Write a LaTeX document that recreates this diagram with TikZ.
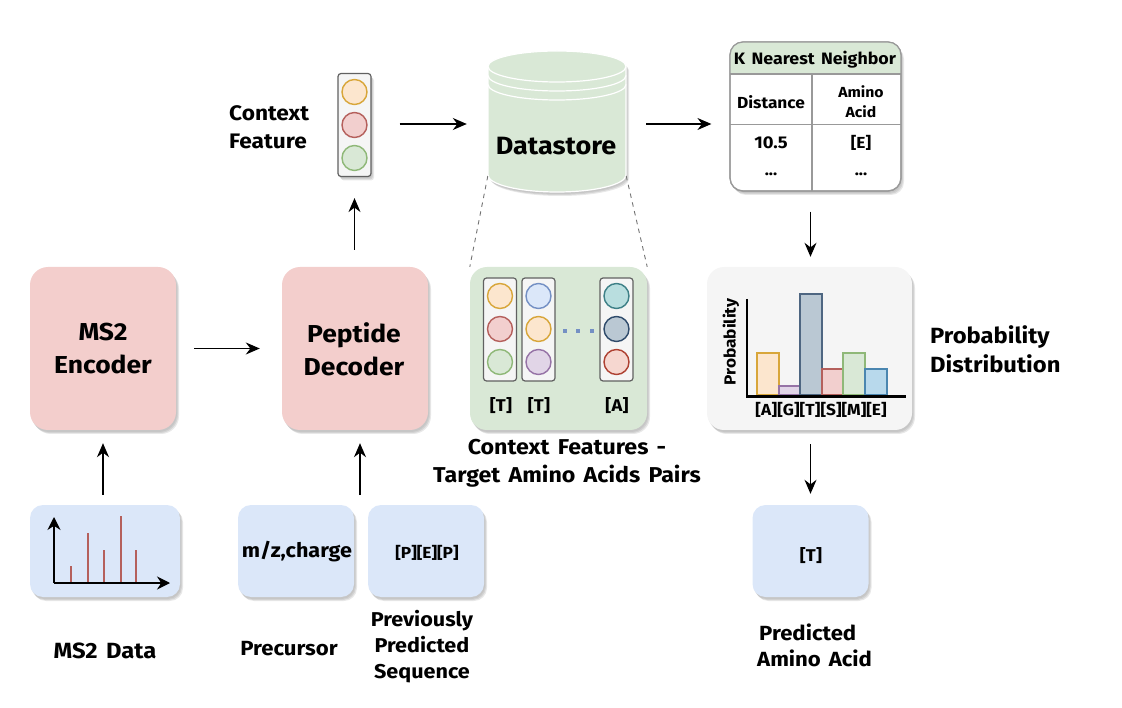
\documentclass[tikz,border=0pt]{standalone}
\usepackage{fontspec}
\setmainfont{Fira Sans}[FakeStretch=1.08,WordSpace=1.5]
\usetikzlibrary{shadows,calc,arrows.meta}
\definecolor{pinkf}{HTML}{F3CECC}
\definecolor{greenf}{HTML}{D9E8D6}
\definecolor{bluef}{HTML}{DBE7F9}
\definecolor{grayf}{HTML}{F5F5F5}
\definecolor{orangef}{HTML}{FCE6CE}
\definecolor{oranged}{HTML}{D8A63A}
\definecolor{redf}{HTML}{F2CFCE}
\definecolor{redd}{HTML}{B5605C}
\definecolor{greend}{HTML}{8FB878}
\definecolor{blued}{HTML}{7490C4}
\definecolor{purplef}{HTML}{E1D5E7}
\definecolor{purpled}{HTML}{9673A6}
\definecolor{tealf}{HTML}{B9DEDF}
\definecolor{teald}{HTML}{3E8087}
\definecolor{navyf}{HTML}{BAC8D3}
\definecolor{navyd}{HTML}{2F4B6B}
\definecolor{salf}{HTML}{F6D7D0}
\definecolor{sald}{HTML}{AE4132}
\definecolor{skyf}{HTML}{B8D9EC}
\definecolor{skyd}{HTML}{4A86B0}
\newcommand{\fs}[2]{\fontsize{#1}{#2}\selectfont\bfseries}
\tikzset{
  x=1pt,y=-1pt,
  softshadow/.style={
    drop shadow={shadow xshift=1pt,shadow yshift=-2pt,opacity=.06,fill=black},
    drop shadow={shadow xshift=2pt,shadow yshift=-3pt,opacity=.09,fill=black},
    drop shadow={shadow xshift=3pt,shadow yshift=-4pt,opacity=.09,fill=black}},
  card/.style={rectangle,rounded corners=#1,inner sep=0pt,softshadow},
  card/.default=14pt,
  encbox/.style={card=18pt,fill=pinkf,minimum width=146pt,minimum height=163pt},
  inbox/.style={card=13pt,fill=bluef,minimum width=116pt,minimum height=92pt},
  tube/.style={rectangle,rounded corners=3pt,inner sep=0pt,draw=black!62,line width=1.2pt,fill=grayf,minimum width=33pt,minimum height=103pt},
  dot/.style={circle,inner sep=0pt,minimum size=25pt,line width=1.4pt},
  arr/.style={-{Stealth[length=14pt,width=12pt]},line width=1.2pt,black},
  big/.style={font=\fs{24.5}{33},align=center,inner sep=0pt},
  lab/.style={font=\fs{20.5}{26.5},align=center,inner sep=0pt},
  small/.style={font=\fs{16}{20},align=center,inner sep=0pt},
  bar/.style={line width=1.4pt},
  ghost/.style={rectangle,inner sep=0pt},
  zoomline/.style={draw=black!55,line width=.9pt,dash pattern=on 4.5pt off 4.5pt}
}
\begin{document}
\begin{tikzpicture}
\useasboundingbox (0,0) rectangle (1122,708);
% main boxes
\node[encbox] (enc) at (103,348.5) {};
\node[big] (enclab) at (103,349) {MS2\\Encoder};
\node[encbox] (dec) at (355,348.5) {};
\node[big] (declab) at (354,349) {Peptide\\Decoder};
% input boxes
\node[inbox,minimum width=150pt] (msd) at (105,551) {};
\node[inbox] (prec) at (296,551) {};
\node[font=\fs{20}{20},inner sep=0pt] (preclab) at (297,552) {m/z,charge};
\node[inbox] (seq) at (426,551) {};
\node[small] (seqlab) at (427,553) {[P][E][P]};
\node[inbox] (pred) at (810.5,551) {};
\node[small,font=\fs{17}{20}] (predlab) at (811,556) {[T]};
% ms2 chart
\foreach \px/\py in {71/566,88/533,104/550,121/516,136/550}
  \draw[redd,line width=1.2pt] (\px,583) -- (\px,\py);
\coordinate (msorigin) at (54,583);
\coordinate (mstop) at (54,517);
\coordinate (msright) at (170,583);
\draw[-{Stealth[length=13pt,width=13pt]},line width=1.2pt] (msorigin) -- (mstop);
\draw[-{Stealth[length=13pt,width=13pt]},line width=1.2pt] (msorigin) -- (msright);
% labels
\node[lab,font=\fs{22}{26}] (l1) at (105,651) {MS2 Data};
\node[lab] (l2) at (289,649) {Precursor};
\node[lab,font=\fs{20}{26}] (l3) at (422,647) {Previously\\Predicted\\Sequence};
\node[lab,align=left,anchor=west] (l4) at (757,645.5) {\hspace{2pt}Predicted\\Amino Acid};
\node[lab,font=\fs{21}{28},align=left,anchor=west] (l5) at (229,127) {Context\\Feature};
\node[lab,font=\fs{22}{29},align=left,anchor=west] (l6) at (930,349.5) {Probability\\Distribution};
\node[lab,font=\fs{21.5}{28}] (l7) at (567,463) {Context Features -\\Target Amino Acids Pairs};
% context feature tube
\node[tube,softshadow] (feat) at (354.5,125) {};
\node[dot,draw=oranged,fill=orangef] (f1) at (354.5,92) {};
\node[dot,draw=redd,fill=redf] (f2) at (354.5,125) {};
\node[dot,draw=greend,fill=greenf] (f3) at (354.5,158) {};
% datastore
\node[ghost,minimum width=138pt,minimum height=146pt] (store) at (557,124) {};
\fill[greenf,softshadow] (488,66.5) -- (488,175) arc[start angle=180,end angle=360,x radius=69,y radius=-17] -- (626,66.5) arc[start angle=0,end angle=180,x radius=69,y radius=-15.5] -- cycle;
\foreach \dy in {0,9,18}
  \draw[white,line width=1.2pt] (488,66.5+\dy) arc[start angle=180,end angle=360,x radius=69,y radius=-15.5];
\draw[white,line width=1.2pt] (488,175) arc[start angle=180,end angle=360,x radius=69,y radius=-17] -- (626,66.5) arc[start angle=0,end angle=180,x radius=69,y radius=-15.5] -- cycle;
\node[big,font=\fs{25}{33}] (storelab) at (556,146) {Datastore};
% context panel
\node[card=17pt,fill=greenf,minimum width=177pt,minimum height=163pt] (panel) at (558.5,348.5) {};
\draw[zoomline] (store.west |- 0,176) -- (panel.north west);
\draw[zoomline] (store.east |- 0,176) -- (panel.north east);
\node[tube] (t1) at (500,329.5) {};
\node[tube] (t2) at (538.5,329.5) {};
\node[tube] (t3) at (616.5,329.5) {};
\node[dot,draw=oranged,fill=orangef] at (500,296) {};
\node[dot,draw=redd,fill=redf] at (500,329) {};
\node[dot,draw=greend,fill=greenf] at (500,362) {};
\node[dot,draw=blued,fill=bluef] at (538.5,296) {};
\node[dot,draw=oranged,fill=orangef] at (538.5,329) {};
\node[dot,draw=purpled,fill=purplef] at (538.5,362) {};
\node[dot,draw=teald,fill=tealf] at (616.5,296) {};
\node[dot,draw=navyd,fill=navyf] at (616.5,329) {};
\node[dot,draw=sald,fill=salf] at (616.5,362) {};
\foreach \px in {565,578,592}
  \fill[blued] (\px-1.7,329.3) rectangle (\px+1.7,332.7);
\node[small,font=\fs{17}{20}] at (501,406) {[T]};
\node[small,font=\fs{17}{20}] at (539,406) {[T]};
\node[small,font=\fs{17}{20}] at (617,406) {[A]};
% table
\node[card=13pt,fill=white,draw=black!40,line width=1.2pt,minimum width=171pt,minimum height=149pt] (knn) at (815.5,116.5) {};
\begin{scope}
\clip[rounded corners=13pt] (730,42) rectangle (901,191);
\fill[greenf] (730,42) rectangle (901,74);
\end{scope}
\draw[black!40,line width=1.2pt] (730,74) -- (901,74) (730,124.5) -- (901,124.5) (812,74) -- (812,191);
\draw[black!40,line width=1.2pt,rounded corners=13pt] (730,42) rectangle (901,191);
\node[font=\fs{16.5}{20},inner sep=0pt] at (815,60) {K Nearest Neighbor};
\node[small] at (771,102) {Distance};
\node[small,font=\fs{14.6}{20}] at (861,102) {Amino\\Acid};
\node[small,font=\fs{17}{20}] at (771,143) {10.5};
\node[small] at (861,143) {[E]};
\node[small] at (771,174) {...};
\node[small] at (861,174) {...};
% probability panel
\node[card=17pt,fill=grayf,minimum width=205pt,minimum height=163pt] (prob) at (809.5,348.5) {};
\draw[bar,draw=oranged,fill=orangef] (757,395) rectangle (779,353);
\draw[bar,draw=purpled,fill=purplef] (779,395) rectangle (800,386);
\draw[bar,draw=navyd!85,fill=navyf] (800,395) rectangle (822,294);
\draw[bar,draw=redd,fill=redf] (822,395) rectangle (843,369);
\draw[bar,draw=greend,fill=greenf] (843,395) rectangle (865,353);
\draw[bar,draw=skyd,fill=skyf] (865,395) rectangle (887,369);
\draw[line width=2.6pt] (747,299) -- (747,396.3) -- (906,396.3);
\node[small,rotate=90] at (731,342) {Probability};
\node[small] at (821,410) {[A][G][T][S][M][E]};
% connectors
\coordinate (seqin) at (360,495);
\draw[arr] ([yshift=10pt]enc.south |- msd.north) -- ([yshift=-13pt]enc.south);
\draw[arr] (seqin) -- ([yshift=-13pt,xshift=5pt]dec.south);
\draw[arr] ([xshift=18pt]enc.east) -- ([xshift=-22pt]dec.west);
\draw[arr] ([yshift=17pt]feat.south |- dec.north) -- ([yshift=-21pt]feat.south);
\draw[arr] ([xshift=28pt,yshift=1pt]feat.east) -- ([xshift=-21pt]store.west);
\draw[arr] ([xshift=20pt]store.east) -- ([xshift=-18pt]knn.west |- store.east);
\draw[arr] ([yshift=-20pt]pred.north |- knn.south) -- ([yshift=10pt]pred.north |- prob.north);
\draw[arr] ([yshift=-14pt]pred.north |- prob.south) -- ([yshift=11pt]pred.north);
\end{tikzpicture}
\end{document}
